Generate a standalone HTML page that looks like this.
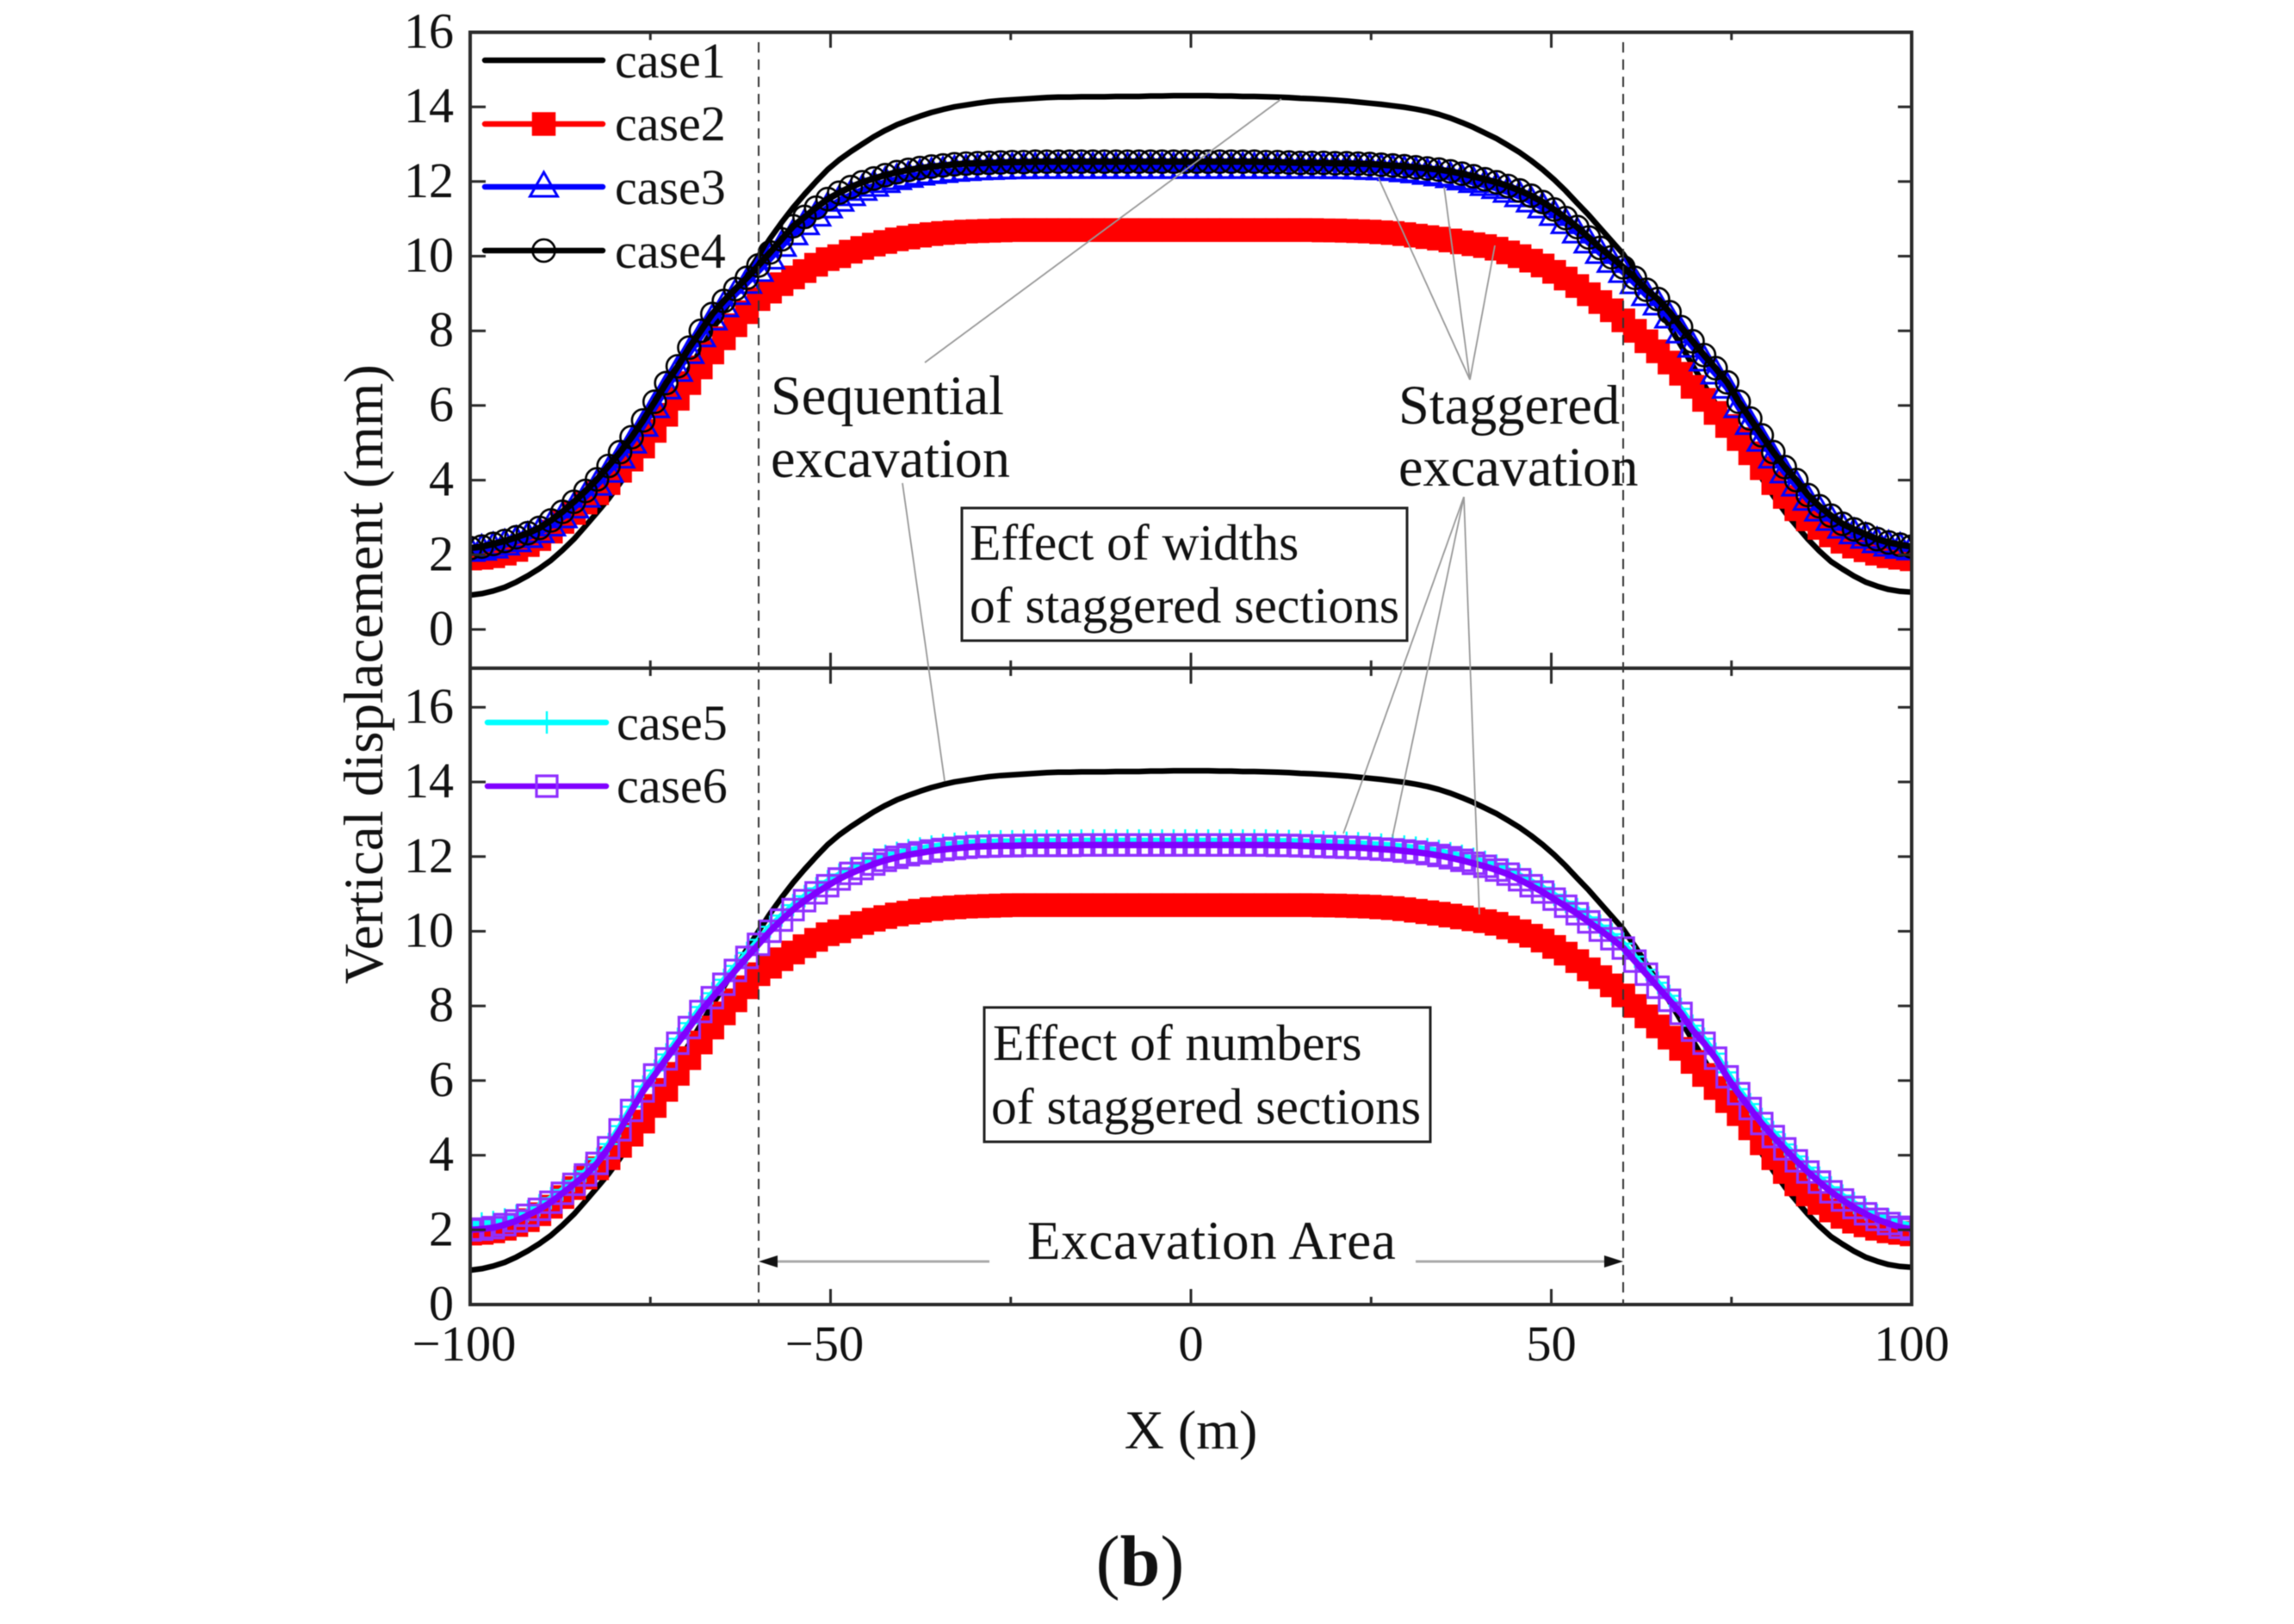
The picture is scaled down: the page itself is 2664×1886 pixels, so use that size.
<!DOCTYPE html>
<html lang="en">
<head>
<meta charset="utf-8">
<title>Vertical displacement chart</title>
<style>
html,body{margin:0;padding:0;background:#fff;}
svg{display:block;filter:blur(0.6px);}
text{font-family:"Liberation Serif",serif;fill:#111;}
</style>
</head>
<body>
<svg id="chart" xmlns="http://www.w3.org/2000/svg" width="2664" height="1886" viewBox="0 0 2664 1886">
  <rect x="0" y="0" width="2664" height="1886" fill="#fff"/>
  <defs>
    <clipPath id="clip-upper"><rect x="546" y="37.5" width="1674" height="738.5"/></clipPath>
    <clipPath id="clip-lower"><rect x="546" y="776" width="1674" height="739"/></clipPath>
  </defs>
  <g id="series-upper" clip-path="url(#clip-upper)"></g>
  <g id="series-lower" clip-path="url(#clip-lower)"></g>
  <g id="axes"></g>

  <g stroke="#999" stroke-width="1.8" fill="none">
    <line x1="1074" y1="421" x2="1488" y2="115"/>
    <line x1="1048" y1="561" x2="1097" y2="907"/>
    <line x1="1707" y1="441" x2="1601" y2="207"/>
    <line x1="1707" y1="441" x2="1677" y2="217"/>
    <line x1="1707" y1="441" x2="1736" y2="285"/>
    <line x1="1700" y1="577" x2="1560" y2="968"/>
    <line x1="1700" y1="577" x2="1617" y2="972"/>
    <line x1="1700" y1="577" x2="1718" y2="1062"/>
  </g>

  <g stroke="#333" stroke-width="2" stroke-dasharray="12 8" fill="none">
    <line x1="881" y1="49" x2="881" y2="1515"/>
    <line x1="1885" y1="49" x2="1885" y2="1515"/>
  </g>

  <text x="895" y="481" font-size="64.2">Sequential</text>
  <text x="895" y="554" font-size="64.2">excavation</text>
  <text x="1624" y="492" font-size="64.3">Staggered</text>
  <text x="1624" y="564" font-size="64.3">excavation</text>

  <rect x="1117" y="590" width="517" height="154" fill="none" stroke="#222" stroke-width="3"/>
  <text x="1126" y="650" font-size="59.5">Effect of widths</text>
  <text x="1126" y="723" font-size="59.5">of staggered sections</text>

  <rect x="1143" y="1170" width="518" height="156" fill="none" stroke="#222" stroke-width="3"/>
  <text x="1153" y="1231" font-size="59.5">Effect of numbers</text>
  <text x="1151" y="1305" font-size="59.5">of staggered sections</text>

  <text x="1193" y="1462" font-size="63" letter-spacing="0.7">Excavation Area</text>
  <g>
    <line x1="900" y1="1465" x2="1149" y2="1465" stroke="#aaa" stroke-width="3"/>
    <polygon points="881,1465 903,1458 903,1472" fill="#111"/>
    <line x1="1644" y1="1465" x2="1865" y2="1465" stroke="#aaa" stroke-width="3"/>
    <polygon points="1885,1465 1863,1458 1863,1472" fill="#111"/>
  </g>

  <text transform="translate(444,783) rotate(-90)" text-anchor="middle" font-size="64.8">Vertical displacement (mm)</text>
  <text x="1383" y="1682" text-anchor="middle" font-size="64">X (m)</text>
  <text x="1324" y="1841" text-anchor="middle" font-size="84">(<tspan font-weight="bold">b</tspan>)</text>

  <g id="legends"></g>
</svg>
<script>
const xValues = [-100,-98.4,-96.8,-95.2,-93.6,-92,-90.4,-88.8,-87.2,-85.6,
-84,-82.4,-80.8,-79.2,-77.6,-76,-74.4,-72.8,-71.2,-69.6,
-68,-66.4,-64.8,-63.2,-61.6,-60,-58.4,-56.8,-55.2,-53.6,
-52,-50.4,-48.8,-47.2,-45.6,-44,-42.4,-40.8,-39.2,-37.6,
-36,-34.4,-32.8,-31.2,-29.6,-28,-26.4,-24.8,-23.2,-21.6,
-20,-18.4,-16.8,-15.2,-13.6,-12,-10.4,-8.8,-7.2,-5.6,
-4,-2.4,-0.8,0.8,2.4,4,5.6,7.2,8.8,10.4,
12,13.6,15.2,16.8,18.4,20,21.6,23.2,24.8,26.4,
28,29.6,31.2,32.8,34.4,36,37.6,39.2,40.8,42.4,
44,45.6,47.2,48.8,50.4,52,53.6,55.2,56.8,58.4,
60,61.6,63.2,64.8,66.4,68,69.6,71.2,72.8,74.4,
76,77.6,79.2,80.8,82.4,84,85.6,87.2,88.8,90.4,
92,93.6,95.2,96.8,98.4,100];

const case1 = [.92,.96,1.03,1.13,1.27,1.44,1.63,1.85,2.12,2.42,
2.77,3.13,3.5,3.92,4.4,4.95,5.47,5.97,6.48,6.98,
7.5,8.02,8.52,9.02,9.52,10,10.47,10.9,11.3,11.66,
12,12.32,12.58,12.8,13,13.2,13.37,13.52,13.64,13.75,
13.85,13.93,14,14.05,14.1,14.14,14.17,14.19,14.21,14.23,
14.25,14.26,14.26,14.27,14.27,14.27,14.28,14.28,14.28,14.29,
14.29,14.3,14.3,14.3,14.3,14.29,14.29,14.28,14.28,14.27,
14.26,14.25,14.23,14.22,14.2,14.18,14.16,14.13,14.1,14.07,
14.03,13.99,13.94,13.88,13.8,13.7,13.58,13.45,13.3,13.15,
12.97,12.78,12.56,12.32,12.05,11.75,11.42,11.1,10.75,10.4,
10.05,9.6,9.12,8.62,8.12,7.6,7.08,6.56,6.05,5.55,
5.05,4.55,4.05,3.58,3.15,2.78,2.42,2.1,1.82,1.62,
1.43,1.27,1.16,1.07,1.02,1];

const case2 = [1.9,1.92,1.96,2.03,2.13,2.26,2.42,2.62,2.88,3.12,
3.4,3.65,3.92,4.25,4.55,4.9,5.32,5.75,6.18,6.6,
7.02,7.42,7.8,8.15,8.5,8.85,9.05,9.25,9.43,9.6,
9.77,9.92,10,10.12,10.22,10.31,10.38,10.45,10.5,10.55,
10.59,10.62,10.64,10.66,10.67,10.68,10.69,10.7,10.7,10.7,
10.7,10.7,10.7,10.7,10.7,10.7,10.7,10.7,10.7,10.7,
10.7,10.7,10.7,10.7,10.7,10.7,10.7,10.7,10.7,10.7,
10.7,10.7,10.7,10.7,10.69,10.69,10.68,10.67,10.66,10.64,
10.62,10.59,10.55,10.51,10.47,10.42,10.37,10.32,10.27,10.2,
10.1,10,9.88,9.75,9.58,9.4,9.2,8.98,8.77,8.55,
8.28,8,7.72,7.45,7.15,6.85,6.5,6.15,5.8,5.45,
5.1,4.72,4.32,3.92,3.55,3.22,2.95,2.72,2.52,2.35,
2.22,2.12,2.03,1.96,1.92,1.88];

const case3 = [2.1,2.13,2.19,2.27,2.36,2.47,2.6,2.78,3,3.26,
3.55,3.87,4.22,4.6,5,5.45,5.95,6.45,6.92,7.4,
7.85,8.3,8.65,8.98,9.28,9.6,9.93,10.27,10.58,10.85,
11.08,11.3,11.48,11.63,11.77,11.88,11.98,12.06,12.12,12.18,
12.22,12.25,12.28,12.3,12.32,12.33,12.34,12.35,12.35,12.36,
12.36,12.36,12.36,12.36,12.36,12.36,12.36,12.36,12.36,12.36,
12.36,12.36,12.36,12.36,12.36,12.36,12.36,12.36,12.36,12.36,
12.36,12.36,12.36,12.36,12.36,12.35,12.35,12.34,12.33,12.32,
12.3,12.27,12.24,12.2,12.16,12.11,12.05,11.98,11.9,11.82,
11.72,11.6,11.46,11.3,11.1,10.88,10.63,10.36,10.08,9.84,
9.57,9.27,8.95,8.7,8.35,7.95,7.57,7.2,6.85,6.47,
5.95,5.5,5.05,4.6,4.2,3.85,3.47,3.18,2.93,2.72,
2.57,2.45,2.33,2.24,2.18,2.14];

const case4 = [2.18,2.22,2.29,2.37,2.47,2.58,2.72,2.92,3.15,3.42,
3.71,4.02,4.38,4.75,5.15,5.6,6.1,6.6,7.05,7.55,
8,8.45,8.8,9.12,9.42,9.75,10.1,10.45,10.8,11.05,
11.3,11.53,11.7,11.85,11.98,12.08,12.17,12.25,12.31,12.36,
12.4,12.43,12.46,12.48,12.49,12.5,12.51,12.52,12.52,12.53,
12.53,12.53,12.53,12.53,12.53,12.53,12.53,12.53,12.53,12.53,
12.53,12.53,12.53,12.53,12.53,12.53,12.53,12.53,12.53,12.52,
12.52,12.51,12.5,12.5,12.5,12.49,12.49,12.48,12.47,12.45,
12.43,12.41,12.38,12.35,12.32,12.27,12.21,12.14,12.06,11.98,
11.88,11.76,11.62,11.45,11.25,11.02,10.78,10.5,10.22,9.97,
9.7,9.42,9.1,8.85,8.5,8.1,7.72,7.35,7,6.62,
6.1,5.65,5.2,4.75,4.35,4,3.6,3.3,3.05,2.83,
2.68,2.55,2.42,2.33,2.27,2.22];

const case5 = [2.15,2.17,2.21,2.28,2.38,2.5,2.66,2.85,3.07,3.31,
3.57,3.9,4.3,4.78,5.3,5.84,6.27,6.7,7.12,7.54,
7.97,8.34,8.7,9.07,9.42,9.77,10.12,10.42,10.7,10.94,
11.15,11.34,11.52,11.67,11.8,11.92,12.02,12.1,12.17,12.22,
12.27,12.31,12.34,12.37,12.39,12.4,12.41,12.41,12.42,12.42,
12.42,12.42,12.42,12.43,12.43,12.43,12.43,12.43,12.43,12.43,
12.43,12.43,12.43,12.43,12.43,12.43,12.43,12.43,12.43,12.43,
12.42,12.42,12.41,12.4,12.39,12.38,12.37,12.36,12.34,12.32,
12.3,12.27,12.24,12.2,12.15,12.09,12.02,11.94,11.86,11.76,
11.65,11.5,11.34,11.17,10.98,10.79,10.59,10.37,10.15,9.92,
9.67,9.32,8.97,8.62,8.27,7.92,7.47,7.12,6.72,6.22,
5.77,5.37,4.97,4.62,4.29,3.97,3.67,3.4,3.14,2.92,
2.72,2.55,2.4,2.28,2.18,2.12];

const case6 = [2,2.02,2.06,2.14,2.24,2.39,2.55,2.74,2.98,3.22,
3.47,3.78,4.2,4.68,5.2,5.72,6.15,6.58,7,7.42,
7.85,8.22,8.58,8.95,9.3,9.65,10,10.3,10.58,10.82,
11.03,11.22,11.4,11.55,11.68,11.8,11.9,11.98,12.05,12.1,
12.15,12.19,12.22,12.25,12.27,12.28,12.29,12.29,12.3,12.3,
12.3,12.3,12.3,12.31,12.31,12.31,12.31,12.31,12.31,12.31,
12.31,12.31,12.31,12.31,12.31,12.31,12.31,12.31,12.31,12.31,
12.3,12.3,12.29,12.28,12.27,12.26,12.25,12.24,12.22,12.2,
12.18,12.15,12.12,12.08,12.03,11.97,11.9,11.82,11.74,11.64,
11.53,11.38,11.22,11.05,10.86,10.67,10.47,10.25,10.03,9.8,
9.55,9.2,8.85,8.5,8.15,7.8,7.35,7,6.6,6.1,
5.65,5.25,4.85,4.5,4.17,3.85,3.55,3.28,3.02,2.8,
2.6,2.43,2.28,2.17,2.07,2.02];

const yTickValues = [0,2,4,6,8,10,12,14,16];
const yTickLabels = ["0","2","4","6","8","10","12","14","16"];
const xMajorTicks = [-100,-50,0,50,100];
const xMajorLabels = ["\u2212100","\u221250","0","50","100"];
const xMinorTicks = [-75,-25,25,75];

const NS = "http://www.w3.org/2000/svg";
const PLOT_LEFT = 546, PLOT_RIGHT = 2220, PLOT_TOP = 37.5, PLOT_MID = 776, PLOT_BOTTOM = 1515;
const PURPLE_MARK = "#9030ff";
function xScale(v){ return PLOT_LEFT + (v + 100) * (PLOT_RIGHT - PLOT_LEFT) / 200; }
function yUpper(v){ return 731 - v * 43.35; }
function yLower(v){ return 1515 - v * 43.35; }

function make(tag, parent, attrs){
  const el = document.createElementNS(NS, tag);
  for (const k in attrs) el.setAttribute(k, attrs[k]);
  parent.appendChild(el);
  return el;
}

function markerPoints(kind, cx, cy){
  if (kind === "triangle") return [cx, cy - 17, cx + 16, cy + 11, cx - 16, cy + 11].join(" ");
  return "";
}

function drawMarker(parent, kind, cx, cy, color, seriesName){
  let el;
  if (kind === "square-filled") {
    el = make("rect", parent, {x: cx - 13.75, y: cy - 13.75, width: 27.5, height: 27.5, fill: color});
  } else if (kind === "square") {
    el = make("rect", parent, {x: cx - 12, y: cy - 12, width: 24, height: 24, fill: "none", stroke: color, "stroke-width": 3.2});
  } else if (kind === "triangle") {
    el = make("polygon", parent, {points: markerPoints(kind, cx, cy), fill: "none", stroke: color, "stroke-width": 3});
  } else if (kind === "circle") {
    el = make("circle", parent, {cx: cx, cy: cy, r: 13, fill: "none", stroke: color, "stroke-width": 2.6});
  } else if (kind === "plus") {
    el = make("path", parent, {d: "M" + (cx - 13) + " " + cy + "H" + (cx + 13) + "M" + cx + " " + (cy - 13) + "V" + (cy + 13), fill: "none", stroke: color, "stroke-width": 2.4});
  }
  
  
  return el;
}

function drawSeries(parent, values, yScale, color, lineWidth, kind, seriesName){
  const g = make("g", parent, {});
  
  
  if (kind) {
    values.forEach(function(v, i){
      drawMarker(g, kind, xScale(xValues[i]), yScale(v), color, seriesName);
    });
  }
  const pts = values.map(function(v, i){ return xScale(xValues[i]).toFixed(1) + "," + yScale(v).toFixed(1); }).join(" ");
  const line = make("polyline", g, {points: pts, fill: "none", stroke: color === PURPLE_MARK ? "#8000ff" : color, "stroke-width": lineWidth, "stroke-linejoin": "round"});
  
  
}

const upper = document.getElementById("series-upper");
const lower = document.getElementById("series-lower");
drawSeries(upper, case1, yUpper, "#000", 6.5, null, "case1-upper");
drawSeries(upper, case2, yUpper, "#ff0000", 6, "square-filled", "case2-upper");
drawSeries(upper, case3, yUpper, "#0000ff", 7.5, "triangle", "case3");
drawSeries(upper, case4, yUpper, "#000", 7.5, "circle", "case4");
drawSeries(lower, case1, yLower, "#000", 6.5, null, "case1-lower");
drawSeries(lower, case2, yLower, "#ff0000", 6, "square-filled", "case2-lower");
drawSeries(lower, case5, yLower, "#00ffff", 7, "plus", "case5");
drawSeries(lower, case6, yLower, PURPLE_MARK, 7.5, "square", "case6");

const axes = document.getElementById("axes");
const AXIS = "#2a2a2a";

function axisLine(x1, y1, x2, y2, w, name){
  const l = make("line", axes, {x1: x1, y1: y1, x2: x2, y2: y2, stroke: AXIS, "stroke-width": w});
  
  
}

axisLine(PLOT_LEFT, PLOT_TOP - 2, PLOT_LEFT, PLOT_BOTTOM + 2, 4, "left-spine");
axisLine(PLOT_RIGHT, PLOT_TOP - 2, PLOT_RIGHT, PLOT_BOTTOM + 2, 4, "right-spine");
axisLine(PLOT_LEFT, PLOT_TOP, PLOT_RIGHT, PLOT_TOP, 4, "top-spine");
axisLine(PLOT_LEFT, PLOT_MID, PLOT_RIGHT, PLOT_MID, 4, "middle-spine");
axisLine(PLOT_LEFT, PLOT_BOTTOM, PLOT_RIGHT, PLOT_BOTTOM, 4, "bottom-spine");

function yTickLabel(txt, y, name){
  const t = make("text", axes, {x: 527, y: y + 18, "text-anchor": "end", "font-size": 58});
  t.textContent = txt;
  
  
}

yTickValues.forEach(function(v, i){
  const yu = yUpper(v), yl = yLower(v);
  axisLine(PLOT_LEFT, yu, PLOT_LEFT + 18, yu, 3, "upper-left-tick");
  axisLine(PLOT_RIGHT, yu, PLOT_RIGHT - 16, yu, 3, "upper-right-tick");
  yTickLabel(yTickLabels[i], yu, "upper-y-tick-label");
  axisLine(PLOT_LEFT, yl, PLOT_LEFT + 18, yl, 3, "lower-left-tick");
  axisLine(PLOT_RIGHT, yl, PLOT_RIGHT - 16, yl, 3, "lower-right-tick");
  yTickLabel(yTickLabels[i], yl, "lower-y-tick-label");
});

xMajorTicks.forEach(function(v, i){
  const x = xScale(v);
  if (v > -100 && v < 100) {
    axisLine(x, PLOT_TOP, x, PLOT_TOP + 18, 3, "top-major-tick");
    axisLine(x, PLOT_MID - 18, x, PLOT_MID + 18, 3, "middle-major-tick");
    axisLine(x, PLOT_BOTTOM, x, PLOT_BOTTOM - 18, 3, "bottom-major-tick");
  }
  const t = make("text", axes, {x: v < 0 ? x - 7 : x, y: 1580, "text-anchor": "middle", "font-size": 58.5});
  t.textContent = xMajorLabels[i];
  
  
});

xMinorTicks.forEach(function(v){
  const x = xScale(v);
  axisLine(x, PLOT_TOP, x, PLOT_TOP + 9, 3, "top-minor-tick");
  axisLine(x, PLOT_MID - 9, x, PLOT_MID + 9, 3, "middle-minor-tick");
  axisLine(x, PLOT_BOTTOM, x, PLOT_BOTTOM - 9, 3, "bottom-minor-tick");
});

const legends = document.getElementById("legends");
function legendEntry(label, color, kind, x1, x2, y, textX, textY){
  const g = make("g", legends, {});
  
  
  const line = make("line", g, {x1: x1, y1: y, x2: x2, y2: y, stroke: color === PURPLE_MARK ? "#8000ff" : color, "stroke-width": 6.5, "stroke-linecap": "round"});
  
  
  if (kind) drawMarker(g, kind, (x1 + x2) / 2, y, color, 'legend-' + label);
  const t = make("text", g, {x: textX, y: textY, "font-size": 58});
  t.textContent = label;
  
  
}
legendEntry("case1", "#000", null, 563, 700, 70, 714, 90);
legendEntry("case2", "#ff0000", "square-filled", 563, 700, 144, 714, 163);
legendEntry("case3", "#0000ff", "triangle", 563, 700, 217, 714, 237);
legendEntry("case4", "#000", "circle", 563, 700, 291, 714, 311);
legendEntry("case5", "#00ffff", "plus", 566, 704, 839, 716, 859);
legendEntry("case6", PURPLE_MARK, "square", 566, 704, 913, 716, 932);
</script>
</body>
</html>
